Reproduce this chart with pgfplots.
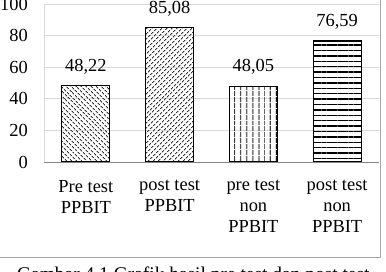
\documentclass[border=0pt]{standalone}
\usepackage{fontspec}
\setmainfont{Liberation Serif}
\usepackage{pgfplots}
\pgfplotsset{compat=1.18}
\usetikzlibrary{patterns.meta}
\definecolor{gridc}{HTML}{D9D9D9}
\definecolor{axc}{HTML}{868686}
\definecolor{framec}{HTML}{A6A6A6}
\begin{document}
\begin{tikzpicture}
\useasboundingbox (0,0) rectangle (386bp,272bp);
\draw[framec, line width=0.8bp] (-10bp,15bp) -- (380bp,15bp) -- (380bp,290bp);
\node[anchor=base west, inner sep=0pt, font=\fontsize{19.5}{22}\selectfont] at (17bp,-8.5bp) {Gambar 4.1 Grafik hasil pre test dan post test};
\begin{axis}[
  at={(44bp,110bp)}, anchor=south west,
  scale only axis, width=335bp, height=158bp,
  xmin=-0.5, xmax=3.5, ymin=0, ymax=100,
  ytick={0,20,...,100},
  xtick={0,1,2,3},
  xticklabels={{Pre test\\PPBIT},{post test\\PPBIT},{pre test\\non\\PPBIT},{post test\\non\\PPBIT}},
  ymajorgrids, grid style={gridc, line width=0.8bp},
  axis x line*=bottom, axis y line*=left,
  x axis line style={axc, line width=0.8bp, -},
  y axis line style={gridc, line width=0.8bp, -},
  major tick length=0pt,
  tick label style={font=\fontsize{18.5}{21}\selectfont, inner sep=0pt},
  yticklabel style={anchor=east, xshift=-16bp},
  xticklabel style={align=center, anchor=north, yshift=-18bp},
  /pgf/number format/assume math mode=true,
  ybar, bar width=48bp, bar shift=0pt,
  nodes near coords,
  point meta=y,
  nodes near coords style={font=\fontsize{18.5}{21}\selectfont, inner sep=0pt, yshift=11bp,
    /pgf/number format/.cd, fixed, fixed zerofill, precision=2, use comma, assume math mode=true},
]
\addplot[draw=black, line width=1.1bp, pattern={Lines[angle=-45, distance=3.6bp, line width=1bp]}, pattern color=black!80] coordinates {(0,48.22)};
\addplot[draw=black, line width=1.1bp, pattern={Lines[angle=45, distance=3.6bp, line width=1bp]}, pattern color=black!80] coordinates {(1,85.08)};
\addplot[draw=black, line width=1.1bp, pattern={Lines[angle=90, distance=6bp, line width=1.4bp]}, pattern color=black] coordinates {(2,48.05)};
\addplot[draw=black, line width=1.1bp, pattern={Lines[angle=0, distance=5.4bp, line width=1.4bp]}, pattern color=black] coordinates {(3,76.59)};
\end{axis}
\end{tikzpicture}
\end{document}
